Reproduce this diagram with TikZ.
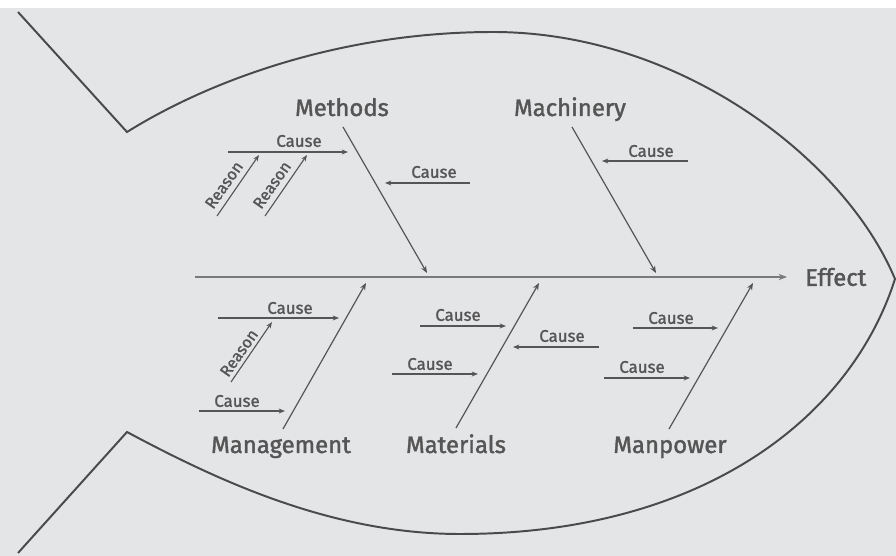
\documentclass[tikz,border=0pt]{standalone}
\usepackage{fontspec}
\setmainfont{Fira Sans}
\newfontfamily\catfont{Fira Sans}[FakeBold=1.6]
\newfontfamily\lblfont{Fira Sans}[FakeBold=1.3]
\usetikzlibrary{arrows.meta}
\definecolor{bgGray}{HTML}{E4E5E7}
\definecolor{inkGray}{HTML}{555555}
\definecolor{lineGray}{HTML}{4A4A4A}
\definecolor{spineGray}{HTML}{7A7A7A}
\tikzset{
  category/.style={text=inkGray,font=\catfont\fontsize{17}{20}\selectfont,inner sep=0pt,anchor=base},
  lbl/.style={text=inkGray,font=\lblfont\fontsize{12}{14}\selectfont,inner sep=0pt},
  reasonlbl/.style={lbl,font=\lblfont\fontsize{11.5}{13}\selectfont,rotate=55},
  bone/.style={draw=inkGray,line width=0.85pt,-{Stealth[length=5pt,width=4pt]}},
  cause/.style={draw=inkGray,line width=0.8pt,-{Stealth[length=4.5pt,width=3.5pt]}},
}
\begin{document}
\begin{tikzpicture}[x=0.025cm,y=-0.025cm]
\useasboundingbox (0,0) rectangle (896,556);
\fill[white] (0,0) rectangle (896,8);
\fill[bgGray] (0,8) rectangle (896,556);

% fish outline
\draw [lineGray,line width=1.4pt] (18,12) -- (127,132)
  .. controls (212,79) and (343,32) .. (493,32)
  .. controls (680,32) and (845,159) .. (895,279)
  .. controls (850,420) and (700,534) .. (460,534)
  .. controls (330,534) and (215,479) .. (127,432) -- (18,553);

% spine
\coordinate (spineS) at (195,277);
\node [category,anchor=west,inner xsep=12.7pt] (effect) at (787,277) {Effect};
\draw [spineGray,line width=1.8pt,-{Stealth[length=6pt,width=4.5pt]}] (spineS) -- (effect);

% categories
\node [category] (methods) at (342,116) {Methods};
\node [category] (machinery) at (570,116) {Machinery};
\node [category] (management) at (281,453) {Management};
\node [category] (materials) at (456,453) {Materials};
\node [category] (manpower) at (670,453) {Manpower};

\coordinate (methodsS) at (343,127);   \coordinate (methodsE) at (427,273);
\coordinate (machineryS) at (572,127); \coordinate (machineryE) at (656,273);
\coordinate (managementS) at (283,429); \coordinate (managementE) at (366,283);
\coordinate (materialsS) at (456,428); \coordinate (materialsE) at (539,283);
\coordinate (manpowerS) at (669,429);  \coordinate (manpowerE) at (753,283);

\draw [bone] (methodsS) -- (methodsE);
\draw [bone] (machineryS) -- (machineryE);
\draw [bone] (managementS) -- (managementE);
\draw [bone] (materialsS) -- (materialsE);
\draw [bone] (manpowerS) -- (manpowerE);

% methods
\coordinate (mc1S) at (228,152); \coordinate (mc1E) at (348,152);
\node [lbl] (mc1) at (299,141) {Cause};
\draw [cause] (mc1S) -- (mc1E);
\coordinate (mr1S) at (217,216); \coordinate (mr1E) at (259,155);
\node [reasonlbl] (mr1) at (224,185) {Reason};
\draw [cause] (mr1S) -- (mr1E);
\coordinate (mr2S) at (265,216); \coordinate (mr2E) at (307,155);
\node [reasonlbl] (mr2) at (272,185) {Reason};
\draw [cause] (mr2S) -- (mr2E);
\coordinate (mc2S) at (470,183); \coordinate (mc2E) at (385,183);
\node [lbl] (mc2) at (434,172) {Cause};
\draw [cause] (mc2S) -- (mc2E);

% machinery
\coordinate (kc1S) at (688,161); \coordinate (kc1E) at (602,161);
\node [lbl] (kc1) at (651,151) {Cause};
\draw [cause] (kc1S) -- (kc1E);

% management
\coordinate (gc1S) at (218,318); \coordinate (gc1E) at (339,318);
\node [lbl] (gc1) at (290,308) {Cause};
\draw [cause] (gc1S) -- (gc1E);
\coordinate (gr1S) at (231,382); \coordinate (gr1E) at (272,322);
\node [reasonlbl] (gr1) at (239,353) {Reason};
\draw [cause] (gr1S) -- (gr1E);
\coordinate (gc2S) at (199,411); \coordinate (gc2E) at (285,411);
\node [lbl] (gc2) at (237,401) {Cause};
\draw [cause] (gc2S) -- (gc2E);

% materials
\coordinate (tc1S) at (420,326); \coordinate (tc1E) at (506,326);
\node [lbl] (tc1) at (458,315) {Cause};
\draw [cause] (tc1S) -- (tc1E);
\coordinate (tc2S) at (599,347); \coordinate (tc2E) at (513,347);
\node [lbl] (tc2) at (562,336) {Cause};
\draw [cause] (tc2S) -- (tc2E);
\coordinate (tc3S) at (392,374); \coordinate (tc3E) at (478,374);
\node [lbl] (tc3) at (430,364) {Cause};
\draw [cause] (tc3S) -- (tc3E);

% manpower
\coordinate (pc1S) at (633,328); \coordinate (pc1E) at (718,328);
\node [lbl] (pc1) at (671,318) {Cause};
\draw [cause] (pc1S) -- (pc1E);
\coordinate (pc2S) at (604,378); \coordinate (pc2E) at (690,378);
\node [lbl] (pc2) at (642,367) {Cause};
\draw [cause] (pc2S) -- (pc2E);

\end{tikzpicture}
\end{document}
